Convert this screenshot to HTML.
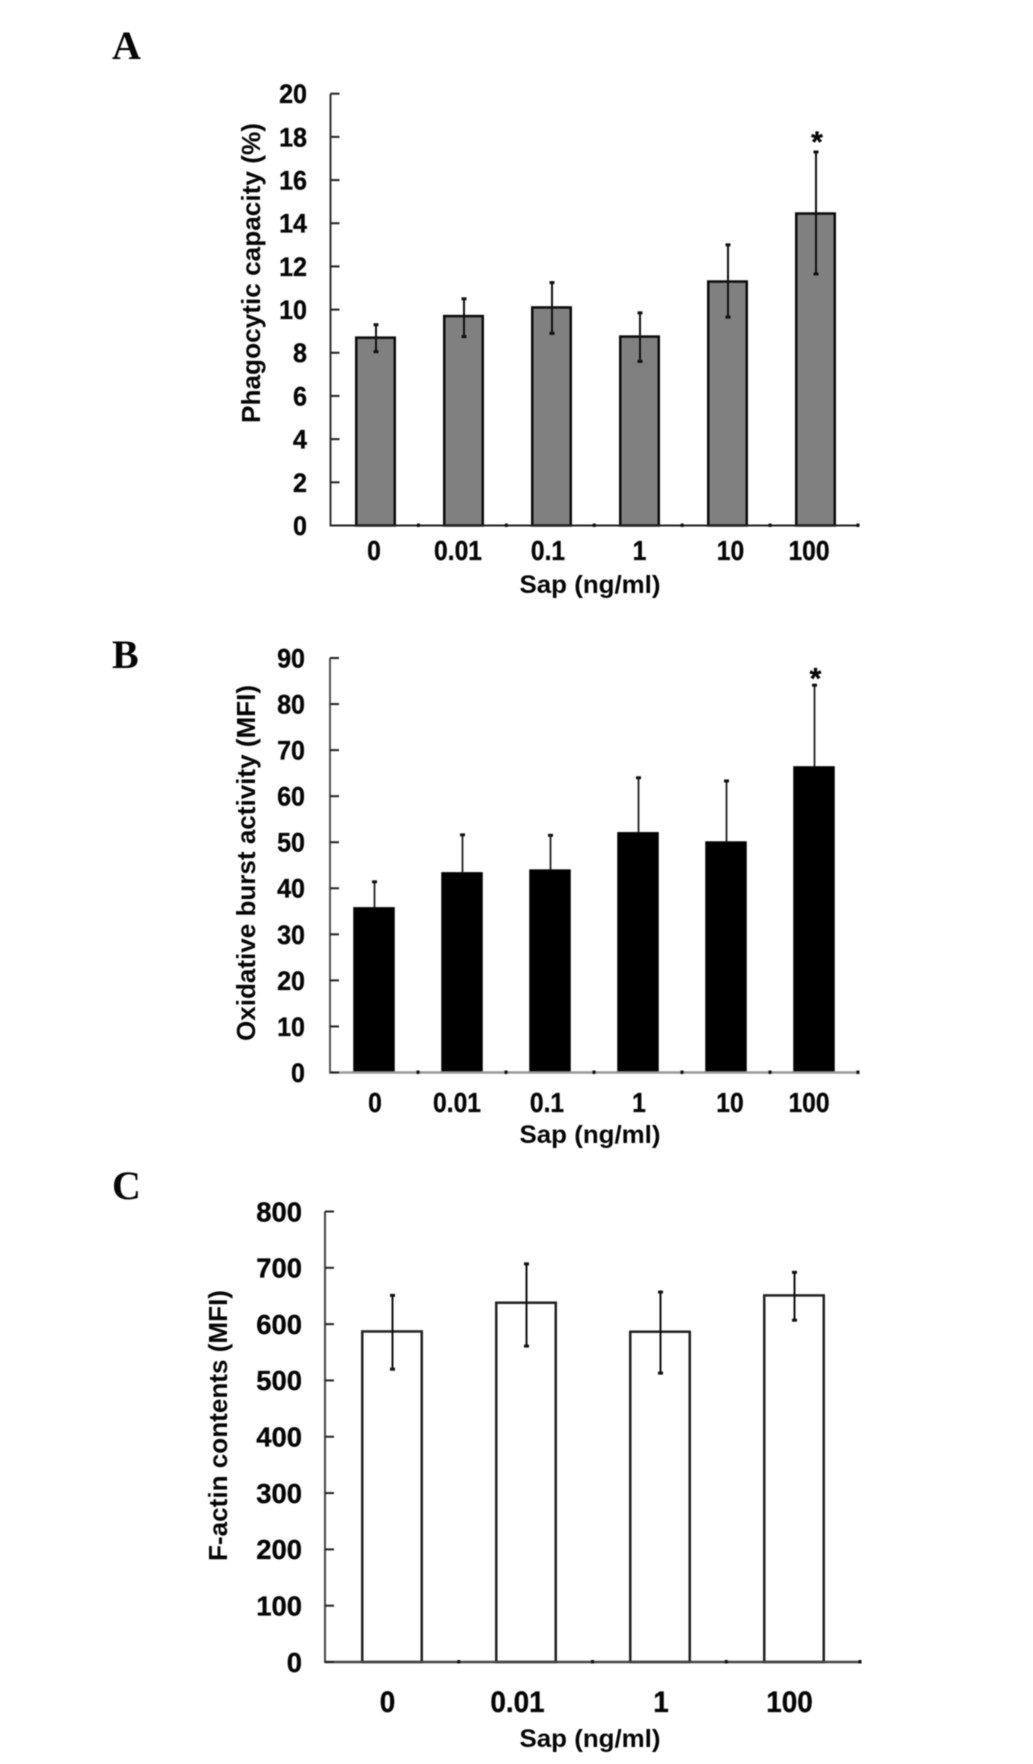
<!DOCTYPE html>
<html lang="en">
<head>
<meta charset="utf-8">
<title>Sap dose response charts</title>
<style>
html,body{margin:0;padding:0;background:#fff;}
svg{display:block;filter:blur(0.5px);}
text{font-family:"Liberation Sans",sans-serif;fill:#050505;}
.letter{font-family:"Liberation Serif",serif;font-weight:bold;font-size:40px;}
.tick{font-weight:bold;stroke:#050505;stroke-width:0.35px;}
.axis-title{font-weight:bold;}
</style>
</head>
<body>
<svg id="figure" xmlns="http://www.w3.org/2000/svg" width="1033" height="1764" viewBox="0 0 1033 1764">
  <rect x="0" y="0" width="1033" height="1764" fill="#fff"/>
  <text class="letter" x="112" y="59">A</text>
  <text class="letter" x="112" y="668">B</text>
  <text class="letter" x="112" y="1199">C</text>
</svg>
<script>
// Panel A data
const aCategories = ['0', '0.01', '0.1', '1', '10', '100'];
const aValues = [8.7, 9.7, 10.1, 8.75, 11.3, 14.45];
const aErrHigh = [9.3, 10.5, 11.25, 9.85, 13, 17.3];
const aErrLow = [8.05, 8.75, 8.9, 7.6, 9.65, 11.65];
const aTicks = [0, 2, 4, 6, 8, 10, 12, 14, 16, 18, 20];
const aStars = ['', '', '', '', '', '*'];

// Panel B data
const bCategories = ['0', '0.01', '0.1', '1', '10', '100'];
const bValues = [35.8, 43.4, 44, 52.1, 50.1, 66.4];
const bErrHigh = [41.4, 51.6, 51.5, 64, 63.3, 84.1];
const bErrLow = [];
const bTicks = [0, 10, 20, 30, 40, 50, 60, 70, 80, 90];
const bStars = ['', '', '', '', '', '*'];

// Panel C data
const cCategories = ['0', '0.01', '1', '100'];
const cValues = [587, 638, 586.5, 651];
const cErrHigh = [651, 707, 657, 692];
const cErrLow = [520, 561, 513, 607];
const cTicks = [0, 100, 200, 300, 400, 500, 600, 700, 800];
const cStars = ['', '', '', ''];

const svg = document.getElementById('figure');
const NS = 'http://www.w3.org/2000/svg';

function mk(tag, attrs, parent) {
  const node = document.createElementNS(NS, tag);
  for (const k in attrs) node.setAttribute(k, attrs[k]);
  parent.appendChild(node);
  return node;
}

function drawPanel(cfg, categories, values, errHigh, errLow, ticks, stars) {
  const group = mk('g', {}, svg);
  
  

  const maxTick = ticks[ticks.length - 1];
  const yScale = v => cfg.y0 - (v / maxTick) * (cfg.y0 - cfg.yTop);
  const xCenter = i => cfg.bandStart + (i + 0.5) * cfg.step;

  // bars
  values.forEach((v, i) => {
    const top = yScale(v);
    const c = xCenter(i);
    const bar = mk('rect', {
      x: c - cfg.barW / 2 + cfg.barStroke / 2,
      y: top,
      width: cfg.barW - cfg.barStroke,
      height: cfg.y0 - top,
      fill: cfg.barFill,
      stroke: cfg.barEdge,
      'stroke-width': cfg.barStroke
    }, group);
    
    
  });

  // axes
  const yAxis = mk('line', {x1: cfg.axisX, x2: cfg.axisX, y1: cfg.yTop, y2: cfg.y0 + 1, stroke: cfg.axisColor, 'stroke-width': 2}, group);
  
  

  const xAxis = mk('line', {x1: cfg.axisX, x2: cfg.axisEnd, y1: cfg.y0, y2: cfg.y0, stroke: cfg.baseColor, 'stroke-width': cfg.baseWidth}, group);
  
  

  // y ticks and labels
  ticks.forEach(t => {
    const y = yScale(t);
    const mark = mk('line', {x1: cfg.axisX, x2: cfg.axisX + 9, y1: y, y2: y, stroke: '#222', 'stroke-width': 2}, group);
    
    

    const label = mk('text', {
      class: 'tick', 'text-anchor': 'end', 'font-size': cfg.yFont,
      transform: 'translate(' + cfg.yLabelRight + ' ' + (y + cfg.yFont * 0.35) + ') scale(' + cfg.yFontX + ' 1)'
    }, group);
    label.textContent = String(t);
    
    
  });

  // x ticks
  for (let i = 1; i <= categories.length; i++) {
    const x = cfg.axisX + (cfg.axisEnd - cfg.axisX) * i / categories.length;
    const mark = mk('line', {x1: x, x2: x, y1: cfg.y0 - 2, y2: cfg.y0 + 1.5, stroke: '#111', 'stroke-width': 3}, group);
    
    
  }

  // x labels
  categories.forEach((c, i) => {
    const label = mk('text', {
      class: 'tick', 'text-anchor': 'middle', 'font-size': cfg.xFont,
      transform: 'translate(' + (xCenter(i) + cfg.labelDx[i]) + ' ' + cfg.xLabelY + ') scale(' + cfg.xFontX + ' 1)'
    }, group);
    label.textContent = c;
    
    
  });

  // error bars
  errHigh.forEach((h, i) => {
    const c = xCenter(i) + cfg.errDx;
    const yHigh = yScale(h);
    const low = errLow.length ? errLow[i] : values[i];
    const yLow = yScale(low);
    const stem = mk('line', {x1: c, x2: c, y1: yHigh, y2: yLow, stroke: cfg.errColor, 'stroke-width': cfg.errWidth}, group);
    
    

    const capTop = mk('line', {x1: c - 2.5, x2: c + 2.5, y1: yHigh, y2: yHigh, stroke: '#111', 'stroke-width': 3}, group);
    
    

    if (errLow.length) {
      const capLow = mk('line', {x1: c - 2.5, x2: c + 2.5, y1: yLow, y2: yLow, stroke: '#111', 'stroke-width': 3}, group);
      
      
    }

    if (stars[i]) {
      const star = mk('text', {class: 'tick', x: c + 1, y: yHigh + cfg.starDy, 'text-anchor': 'middle', 'font-size': 30}, group);
      star.textContent = stars[i];
      
      
    }
  });

  // axis titles
  const yTitle = mk('text', {
    class: 'axis-title',
    x: cfg.yTitleX, y: cfg.yTitleY,
    'text-anchor': 'middle',
    'font-size': 26,
    textLength: cfg.yTitleLen,
    lengthAdjust: 'spacingAndGlyphs',
    transform: 'rotate(-90 ' + cfg.yTitleX + ' ' + cfg.yTitleY + ')'
  }, group);
  yTitle.textContent = cfg.yTitle;
  
  

  const xTitle = mk('text', {
    class: 'axis-title',
    x: 590, y: cfg.xTitleY,
    'text-anchor': 'middle',
    'font-size': 25,
    textLength: 141,
    lengthAdjust: 'spacingAndGlyphs'
  }, group);
  xTitle.textContent = 'Sap (ng/ml)';
  
  
}

drawPanel({
  name: 'panel-a-chart', axisX: 330.5, axisEnd: 858, y0: 525.5, yTop: 93.7,
  bandStart: 331.5, step: 88, barW: 41, barFill: '#808080', barEdge: '#0a0a0a', barStroke: 2.5,
  axisColor: '#333', baseColor: '#222', baseWidth: 2,
  yLabelRight: 307, yFont: 27, yFontX: 0.93, xFont: 28, xFontX: 0.88, xLabelY: 560, labelDx: [-1.5, -5.5, -3.5, 0, 3, -6.5],
  errDx: 0.5, errColor: '#111', errWidth: 2, starDy: 0,
  yTitle: 'Phagocytic capacity (%)', yTitleX: 260, yTitleY: 273, yTitleLen: 300, xTitleY: 593
}, aCategories, aValues, aErrHigh, aErrLow, aTicks, aStars);

drawPanel({
  name: 'panel-b-chart', axisX: 330, axisEnd: 858, y0: 1072.5, yTop: 658,
  bandStart: 330, step: 88, barW: 41.5, barFill: '#000', barEdge: '#000', barStroke: 1,
  axisColor: '#555', baseColor: '#999', baseWidth: 2.5,
  yLabelRight: 305, yFont: 27, yFontX: 0.93, xFont: 28, xFontX: 0.88, xLabelY: 1112, labelDx: [1, -5, -3, 1, 4, -5],
  errDx: 0.5, errColor: '#222', errWidth: 1.8, starDy: 3.5,
  yTitle: 'Oxidative burst activity (MFI)', yTitleX: 255, yTitleY: 863, yTitleLen: 356, xTitleY: 1143
}, bCategories, bValues, bErrHigh, bErrLow, bTicks, bStars);

drawPanel({
  name: 'panel-c-chart', axisX: 325, axisEnd: 860, y0: 1662, yTop: 1211.5,
  bandStart: 325, step: 134, barW: 62, barFill: '#fff', barEdge: '#222', barStroke: 2.5,
  axisColor: '#444', baseColor: '#444', baseWidth: 2.5,
  yLabelRight: 302, yFont: 28, yFontX: 0.98, xFont: 30, xFontX: 0.93, xLabelY: 1712, labelDx: [-4.5, -8.5, 1, -4.5],
  errDx: 0.5, errColor: '#111', errWidth: 2, starDy: 0,
  yTitle: 'F-actin contents (MFI)', yTitleX: 227, yTitleY: 1425.5, yTitleLen: 271, xTitleY: 1747
}, cCategories, cValues, cErrHigh, cErrLow, cTicks, cStars);
</script>
</body>
</html>
